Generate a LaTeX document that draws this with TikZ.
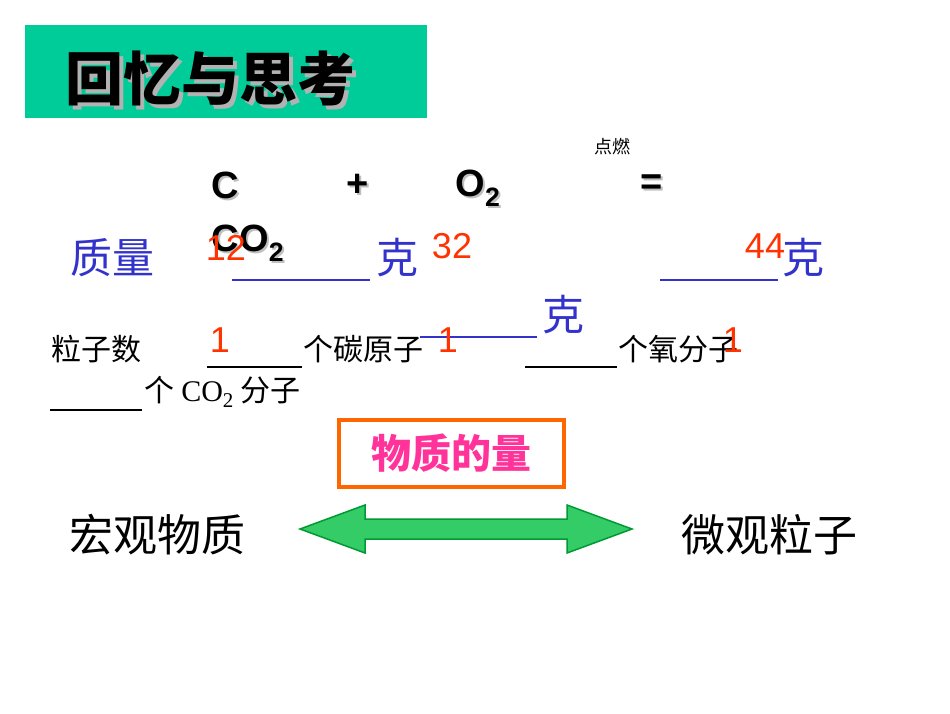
\documentclass[tikz,border=0pt]{standalone}
\usepackage{fontspec}
\usetikzlibrary{calc}
\setmainfont{Liberation Serif}
\newfontfamily\cjk{Noto Sans CJK SC}
\newfontfamily\arial{Liberation Sans}
\begin{document}
\begin{tikzpicture}[x=1pt,y=-1pt,
  eq/.style={font=\arial\bfseries\fontsize{38}{38}\selectfont},
  qty/.style={font=\cjk\fontsize{42}{42}\selectfont,text=blueq},
  num/.style={font=\arial\fontsize{36}{36}\selectfont,text=redn},
  small/.style={font=\cjk\fontsize{30}{30}\selectfont},
  big/.style={font=\cjk\fontsize{44}{44}\selectfont},
  blank/.style={line width=1.2pt},
  blankb/.style={line width=1.5pt,draw=blueq}]
\definecolor{blueq}{HTML}{3333CC}
\definecolor{redn}{HTML}{FF3300}
\definecolor{teal}{HTML}{00CC99}
\definecolor{orng}{HTML}{FF6600}
\definecolor{mag}{HTML}{FF3399}
\definecolor{grn}{HTML}{33CC66}
\definecolor{dgrn}{HTML}{009933}
\useasboundingbox (0,0) rectangle (950,713);
\fill[white] (0,0) rectangle (950,713);
% title
\node[fill=teal,minimum width=402,minimum height=93,inner sep=0,anchor=north west] (title) at (25,25) {};
\node[font=\cjk\bfseries\fontsize{58}{58}\selectfont,text=gray!60] at (214,82) {回忆与思考};
\node[font=\cjk\bfseries\fontsize{58}{58}\selectfont] (tt) at (210,78) {回忆与思考};
% equation
\node[font=\cjk\fontsize{18}{18}\selectfont] (ign) at (612,147) {点燃};
\foreach \t/\x/\y/\n in {C/225/185/c,+/358/185/p,O\textsubscript{2}/478/188/o,=/652/185/e,CO\textsubscript{2}/248/243/co}{
  \node[eq,text=gray!50] at (\x+2,\y+2) {\t};
  \node[eq] (\n) at (\x,\y) {\t};}
% mass line
\node[qty] (mass) at (112,258) {质量};
\draw[blankb] (232,280) coordinate (u1a) -- (370,280) coordinate (u1b);
\node[qty] (k1) at (397,258) {克};
\node[num] (n12) at (226,248) {12};
\node[num] (n32) at (452,246) {32};
\draw[blankb] (660,280) coordinate (u2a) -- (778,280) coordinate (u2b);
\node[num] (n44) at (765,246) {44};
\node[qty] (k3) at (803,258) {克};
\draw[blankb] (420,337) coordinate (u3a) -- (537,337) coordinate (u3b);
\node[qty] (k2) at (563,315) {克};
% particles
\node[small,anchor=west] (lz) at (48,349) {粒子数};
\draw[blank] (207,367) coordinate (b1a) -- (302,367) coordinate (b1b);
\node[small,anchor=west] (tc) at (300,349) {个碳原子};
\draw[blank] (525,367) coordinate (b2a) -- (617,367) coordinate (b2b);
\node[small,anchor=west] (ox) at (615,349) {个氧分子};
\draw[blank] (50,410) coordinate (b3a) -- (142,410) coordinate (b3b);
\node[small,anchor=west] (co2m) at (141,392) {个 {\rmfamily CO\textsubscript{2}} 分子};
\node[num] (r1) at (220,340) {1};
\node[num] (r2) at (448,340) {1};
\node[num] (r3) at (733,340) {1};
% box
\node[draw=orng,line width=4pt,minimum width=225,minimum height=67,text=mag,font=\cjk\bfseries\fontsize{40}{40}\selectfont] (wl) at (451,453) {物质的量};
\node[big] (macro) at (157,535) {宏观物质};
\node[big] (micro) at (769,535) {微观粒子};
% double arrow
\coordinate (al) at (300,529);
\coordinate (ar) at (632,529);
\draw[dgrn,fill=grn,line width=1.5pt,line join=miter]
  (al) -- ++(65,-24) -- ++(0,14) -- ($(ar)+(-65,-10)$) -- ++(0,-14) -- (ar)
  -- ++(-65,24) -- ++(0,-14) -- ($(al)+(65,10)$) -- ++(0,14) -- cycle;
\end{tikzpicture}
\end{document}
